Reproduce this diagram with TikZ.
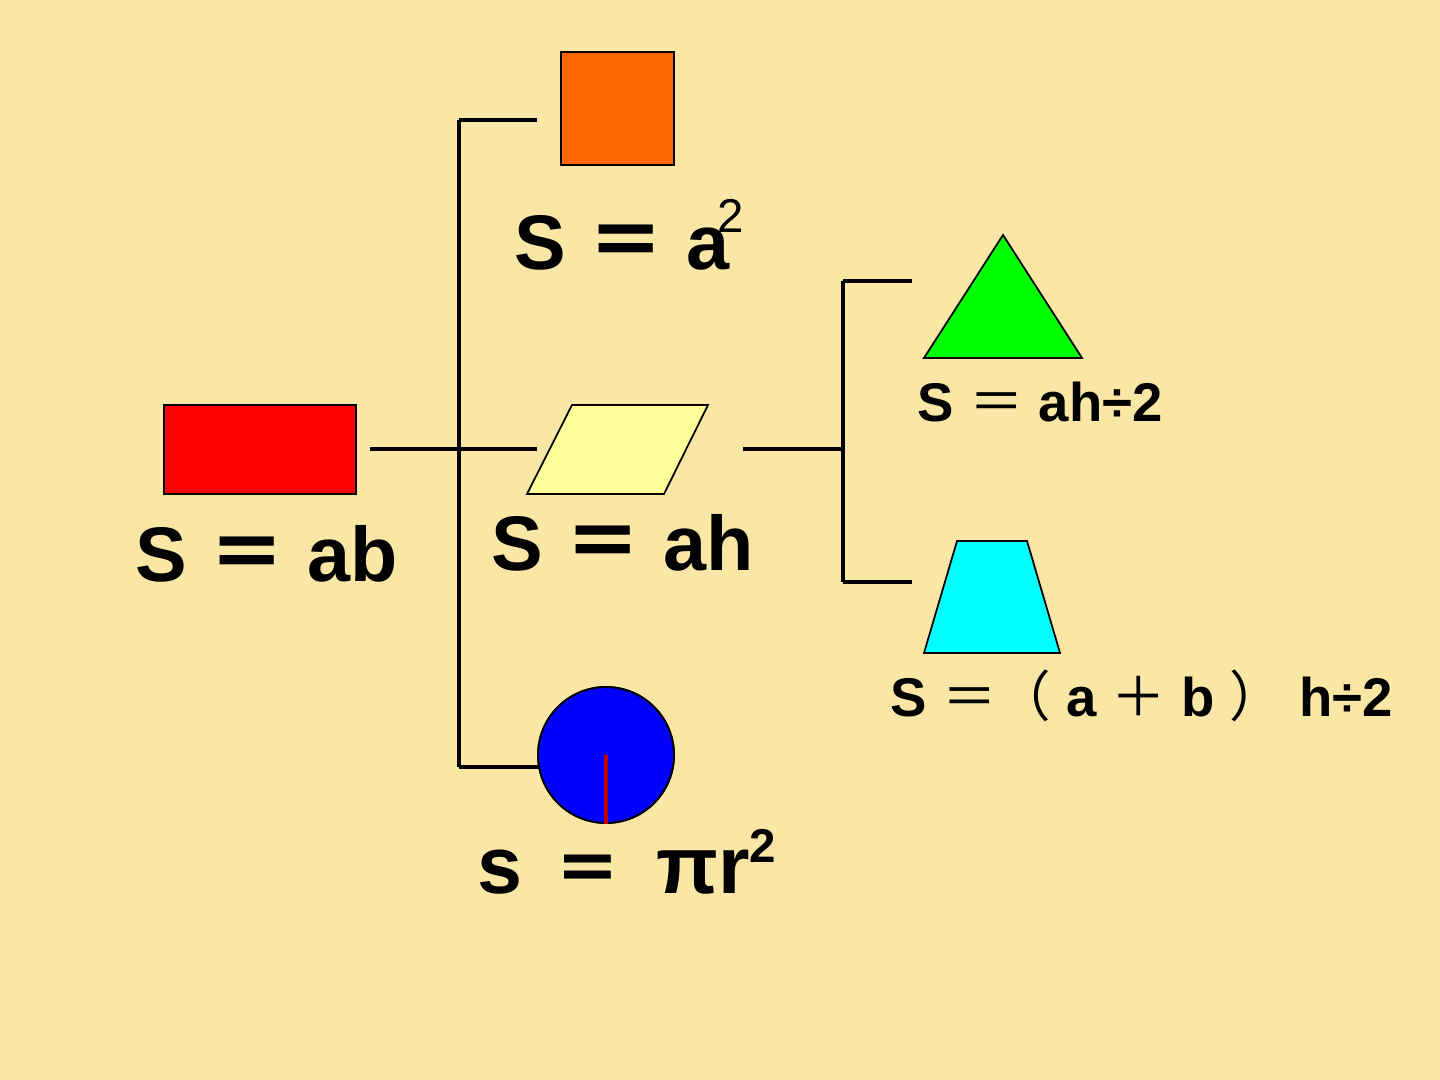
\documentclass[tikz,border=0pt]{standalone}
\usepackage{fontspec}
\setmainfont{Liberation Sans}
\newfontfamily\cjk{Noto Sans CJK SC}
\definecolor{bg}{HTML}{FAE6A5}
\definecolor{sqorange}{HTML}{FF6600}
\definecolor{plyellow}{HTML}{FFFF99}
\definecolor{radred}{HTML}{C00000}
\definecolor{trapcyan}{HTML}{00FFFF}
\definecolor{trigreen}{HTML}{00FF00}
\begin{document}
\begin{tikzpicture}[x=0.01cm,y=-0.01cm,
  shapeln/.style={draw=black,line width=0.5pt},
  branch/.style={draw=black,line width=1.3pt},
  bigtxt/.style={font=\fontsize{22}{26}\selectfont\bfseries,inner sep=0pt,anchor=base west},
  smalltxt/.style={font=\fontsize{15.5}{18}\selectfont\bfseries,inner sep=0pt,anchor=base west}]
\useasboundingbox[fill=bg] (0,0) rectangle (1440,1080);
% shapes
\node[shapeln,fill=red,rectangle,inner sep=0pt,minimum width=1.92cm,minimum height=0.89cm] (rect) at (260,449.5) {};
\node[shapeln,fill=sqorange,inner sep=0pt,minimum width=1.13cm,minimum height=1.13cm] (sq) at (617.5,108.5) {};
\draw[shapeln,fill=plyellow] (572,405) -- (708,405) -- (664,494) -- (527,494) -- cycle;
\node[shapeln,fill=blue,circle,inner sep=0pt,minimum size=1.36cm] (circ) at (606,755) {};
\draw[shapeln,fill=trigreen] (1003,235) -- (1082,358) -- (924,358) -- cycle;
\draw[shapeln,fill=trapcyan] (957,541) -- (1027,541) -- (1060,653) -- (924,653) -- cycle;
% junction coordinates
\coordinate (mL) at (370,449);
\coordinate (mR) at (537,449);
\coordinate (vT) at (459,120);
\coordinate (vB) at (459,767);
\coordinate (cE) at (540,767);
\coordinate (tE) at (537,120);
\coordinate (rL) at (743,449);
\coordinate (rJ) at (843,449);
\coordinate (rT) at (843,281);
\coordinate (rB) at (843,582);
\coordinate (rTE) at (912,281);
\coordinate (rBE) at (912,582);
% connectors
\draw[branch] (mL) -- (mR);
\draw[branch] (vT) -- (vB);
\draw[branch] (vT) -- (tE);
\draw[branch] (vB) -- (cE);
\draw[branch] (rL) -- (rJ);
\draw[branch] (rT) -- (rB);
\draw[branch] (rT) -- (rTE);
\draw[branch] (rB) -- (rBE);
% circle outline over connector end, and radius
\draw[shapeln] (circ.center) circle[radius=68];
\draw[radred,line width=1.1pt] (circ.center) -- (circ.south);
% texts
\node[bigtxt] (tab) at (135,582) {S {\cjk ＝} ab};
\node[bigtxt] (ta2) at (514,270) {S {\cjk ＝} a\kern-3.6pt\raisebox{10.8pt}{\fontsize{13.5}{15}\selectfont\mdseries 2}};
\node[bigtxt] (tah) at (491,571) {S {\cjk ＝} ah};
\node[bigtxt,font=\fontsize{23}{26}\selectfont\bfseries] (tpi) at (477,893) {s\hspace{9pt}{\fontsize{19}{22}\selectfont\cjk ＝}\hspace{10pt}πr\raisebox{8.8pt}{\fontsize{13.5}{15}\selectfont 2}};
\node[smalltxt] (ttri) at (917,422) {S {\cjk\mdseries ＝} ah÷2};
\node[smalltxt] (ttrap) at (890,717) {S {\cjk\mdseries ＝（} a {\cjk\mdseries ＋} b {\cjk\mdseries ）} h÷2};
\end{tikzpicture}
\end{document}
